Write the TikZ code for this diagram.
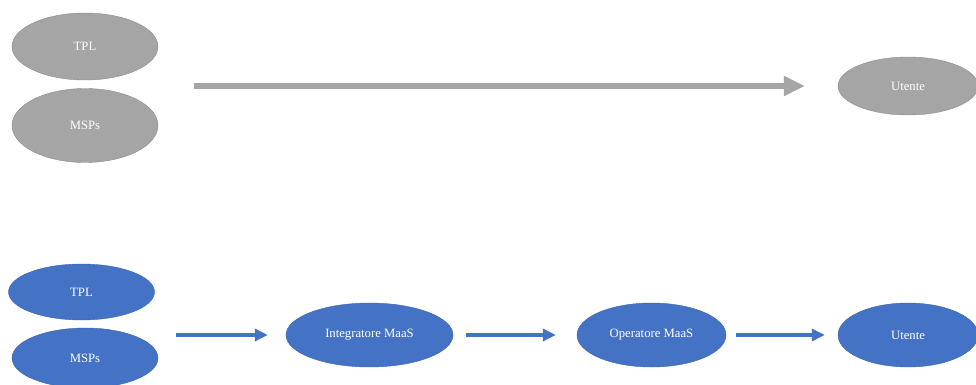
\documentclass[tikz,border=0pt]{standalone}
\usepackage{fontspec}
\setmainfont{Liberation Serif}
\usepackage{xcolor}
\usepackage{tikz}
\usetikzlibrary{shapes,arrows.meta,positioning}

\definecolor{grayfill}{HTML}{A5A5A5}
\definecolor{grayline}{HTML}{8C8C8C}
\definecolor{bluefill}{HTML}{4472C4}
\definecolor{blueline}{HTML}{3A64AE}

\begin{document}
\begin{tikzpicture}[x=1pt, y=-1pt,
    oldactor/.style={ellipse, draw=grayline, fill=grayfill, text=white, inner sep=0pt, minimum width=146pt, minimum height=67pt, font=\fontsize{12.7}{15}\selectfont},
    newactor/.style={ellipse, draw=blueline, fill=bluefill, text=white, inner sep=0pt, minimum width=146pt, minimum height=62pt, font=\fontsize{12.7}{15}\selectfont},
    oldflow/.style={draw=grayfill, line width=6pt, -{Triangle[length=21pt,width=19pt]}},
    newflow/.style={draw=bluefill, line width=3.5pt, -{Triangle[length=13pt,width=12pt]}}
]
\useasboundingbox (0,0) rectangle (976,385);

% Senza MaaS
\node[oldactor] (tplA) at (85, 46.5) {TPL};
\node[oldactor, minimum height=74pt] (mspA) at (85, 125.5) {MSPs};
\node[oldactor, minimum width=140pt, minimum height=58pt] (userA) at (908, 86) {Utente};
\coordinate (srcA) at (194, 86);

% Con MaaS
\node[newactor, minimum height=56pt] (tplB) at (81.5, 292) {TPL};
\node[newactor, minimum height=60pt] (mspB) at (85, 358) {MSPs};
\node[newactor, minimum width=167pt, minimum height=64pt] (integr) at (369.5, 335) {Integratore MaaS};
\node[newactor, minimum width=149pt, minimum height=64pt] (oper) at (651.5, 335) {Operatore MaaS};
\node[newactor, minimum width=140pt, minimum height=64pt] (userB) at (908, 335) {Utente};
\coordinate (srcB) at (176, 335);

% Frecce
\draw[oldflow, shorten >=33pt] (srcA) -- (userA);
\draw[newflow, shorten >=18pt] (srcB) -- (integr);
\draw[newflow, shorten <=13pt, shorten >=21pt] (integr) -- (oper);
\draw[newflow, shorten <=10pt, shorten >=13pt] (oper) -- (userB);

\end{tikzpicture}
\end{document}
